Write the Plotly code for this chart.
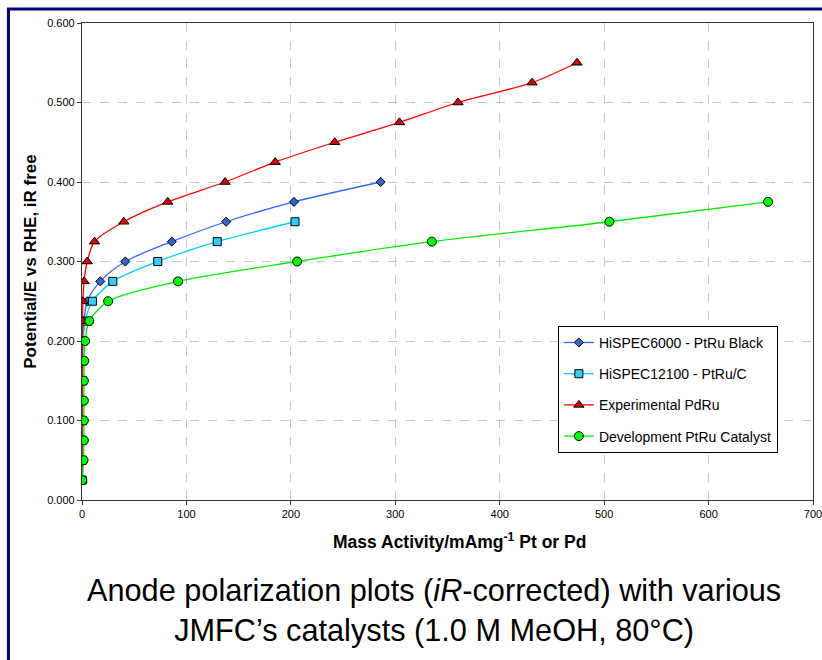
import plotly.graph_objects as go

# Anode potential (V vs RHE, iR free) for each catalyst
pot_black = [0.025, 0.05, 0.075, 0.1, 0.125, 0.15, 0.175, 0.2, 0.225, 0.25, 0.275, 0.3, 0.325, 0.35, 0.375, 0.4]
pot_carbon = [0.025, 0.05, 0.075, 0.1, 0.125, 0.15, 0.175, 0.2, 0.225, 0.25, 0.275, 0.3, 0.325, 0.35]
pot_pdru = [0.025, 0.05, 0.075, 0.1, 0.125, 0.15, 0.175, 0.2, 0.225, 0.25, 0.275, 0.3, 0.325, 0.35,
            0.375, 0.4, 0.425, 0.45, 0.475, 0.5, 0.525, 0.55]
pot_dev = [0.025, 0.05, 0.075, 0.1, 0.125, 0.15, 0.175, 0.2, 0.225, 0.25, 0.275, 0.3, 0.325, 0.35, 0.375]

# Mass activity (mA mg^-1 Pt or Pd)
ma_black = [0.1, 0.2, 0.2, 0.3, 0.3, 0.4, 0.5, 0.8, 2.0, 5.0, 17.5, 41.5, 86, 138, 203, 286]
ma_carbon = [0.2, 0.3, 0.4, 0.5, 0.6, 0.7, 0.9, 1.2, 3.0, 10, 29.5, 72.5, 129.5, 204]
ma_pdru = [0.0, 0.1, 0.1, 0.2, 0.2, 0.3, 0.3, 0.4, 0.6, 0.9, 2.0, 5.0, 12.0, 40,
           82, 137, 185, 242, 304, 360, 431, 474]
ma_dev = [0.3, 1.5, 1.8, 1.8, 1.8, 1.8, 2.2, 3.0, 7.0, 25, 92, 206, 335, 505, 657]

series = [
    ("HiSPEC6000 - PtRu Black", ma_black, pot_black, "#3366FF", "#3366CC", "diamond", 7),
    ("HiSPEC12100 - PtRu/C", ma_carbon, pot_carbon, "#00CCFF", "#33CCFF", "square", 8),
    ("Experimental PdRu", ma_pdru, pot_pdru, "#FF0000", "#DD0000", "triangle-up", 9),
    ("Development PtRu Catalyst", ma_dev, pot_dev, "#00EE00", "#00FF00", "circle", 9),
]

fig = go.Figure()
for i, (name, x, y, lcol, mcol, sym, size) in enumerate(series):
    fig.add_trace(go.Scatter(
        x=x, y=y, name=name, mode="lines+markers",
        line=dict(color=lcol, width=1.3, shape="spline", smoothing=0.8),
        marker=dict(symbol=sym, size=size, color=mcol,
                    line=dict(color="#000000", width=1)),
        legendgroup=f"g{i}",
    ))

sans = "Liberation Sans, Arial"

fig.update_layout(
    width=822, height=660,
    margin=dict(l=82, r=9, t=23, b=160),
    paper_bgcolor="white", plot_bgcolor="white",
    font=dict(family=sans, color="black"),
    legend=dict(
        x=0.651, y=0.365, xanchor="left", yanchor="top",
        bgcolor="white", bordercolor="black", borderwidth=1,
        font=dict(size=14, family=sans),
        tracegroupgap=10, itemwidth=30,
    ),
    xaxis=dict(
        range=[0, 700], dtick=100, tick0=0, automargin=False,
        ticklabeloverflow="allow",
        showgrid=True, gridcolor="#C8C8C8", griddash="dash", gridwidth=1,
        showline=True, linecolor="#333333", linewidth=1.2, mirror=True,
        ticks="outside", ticklen=4, tickcolor="#333333",
        tickfont=dict(size=11, family=sans),
        zeroline=False,
    ),
    yaxis=dict(
        range=[0, 0.6], dtick=0.1, tick0=0, tickformat=".3f", automargin=False,
        showgrid=True, gridcolor="#C8C8C8", griddash="dash", gridwidth=1,
        showline=True, linecolor="#333333", linewidth=1.2, mirror=True,
        ticks="outside", ticklen=4, tickcolor="#333333",
        tickfont=dict(size=11, family=sans),
        zeroline=False,
        title=dict(text="<b>Potential/E vs RHE, iR free</b>",
                   font=dict(size=17, family=sans), standoff=6),
    ),
    annotations=[
        dict(
            xref="paper", yref="paper", x=0.516, y=-0.086, xanchor="center", yanchor="middle",
            showarrow=False,
            text="<b>Mass Activity/mAmg<sup>-1</sup> Pt or Pd</b>",
            font=dict(size=17.5, family=sans, color="black"),
        ),
        dict(
            xref="paper", yref="paper", x=0.4815, y=-0.148, xanchor="center", yanchor="top",
            showarrow=False, align="center",
            text="Anode polarization plots (<i>iR</i>-corrected) with various<br>JMFC’s catalysts (1.0 M MeOH, 80°C)",
            font=dict(size=30.7, family=sans, color="black"),
        ),
    ],
    shapes=[dict(
        type="rect", xref="paper", yref="paper",
        x0=-0.1006, x1=1.05, y0=-0.4, y1=1.0293,
        line=dict(color="#000080", width=3), fillcolor="rgba(0,0,0,0)", layer="below",
    )],
)

fig.write_html("out.html")
